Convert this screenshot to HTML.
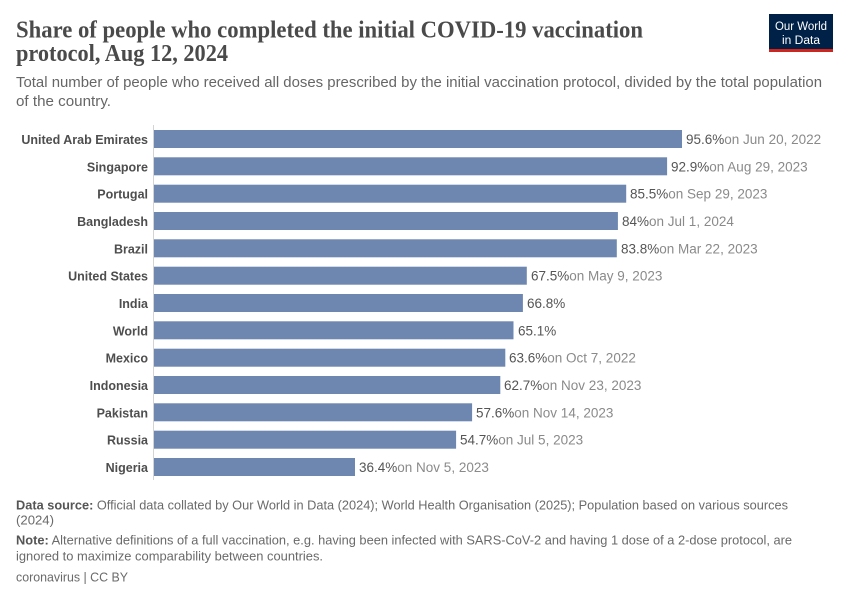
<!DOCTYPE html>
<html>
<head>
<meta charset="utf-8">
<style>
  html,body{margin:0;padding:0;background:#fff;}
  svg{display:block;}
  .t{font-family:"Liberation Serif",serif;font-size:24px;font-weight:bold;fill:#4a4a4a;}
  .s{font-family:"Liberation Sans",sans-serif;font-size:15px;fill:#666;}
  .c{font-family:"Liberation Sans",sans-serif;font-size:12.5px;font-weight:bold;fill:#4e4e4e;}
  .v{font-family:"Liberation Sans",sans-serif;font-size:13.5px;fill:#555;}
  .d{fill:#8a8a8a;}
  .f{font-family:"Liberation Sans",sans-serif;font-size:13px;fill:#6a6a6a;}
  .fb{font-weight:bold;fill:#555;}
  .bar{fill:#6d87b0;}
</style>
</head>
<body>
<svg width="850" height="600" viewBox="0 0 850 600" xmlns="http://www.w3.org/2000/svg">
  <rect width="850" height="600" fill="#fff"/>
  <!-- Title -->
  <text class="t" x="16" y="37.5" textLength="627" lengthAdjust="spacingAndGlyphs">Share of people who completed the initial COVID-19 vaccination</text>
  <text class="t" x="16" y="61" textLength="212" lengthAdjust="spacingAndGlyphs">protocol, Aug 12, 2024</text>
  <!-- Subtitle -->
  <text class="s" x="16" y="87" textLength="806" lengthAdjust="spacingAndGlyphs">Total number of people who received all doses prescribed by the initial vaccination protocol, divided by the total population</text>
  <text class="s" x="16" y="106" textLength="95" lengthAdjust="spacingAndGlyphs">of the country.</text>

  <!-- Logo -->
  <rect x="769" y="14" width="64" height="38" fill="#002147"/>
  <rect x="769" y="49" width="64" height="3" fill="#ce261e"/>
  <text x="801" y="30" text-anchor="middle" font-family="Liberation Sans, sans-serif" font-size="11.5" fill="#fff" textLength="52" lengthAdjust="spacingAndGlyphs">Our World</text>
  <text x="801" y="44" text-anchor="middle" font-family="Liberation Sans, sans-serif" font-size="11.5" fill="#fff" textLength="38" lengthAdjust="spacingAndGlyphs">in Data</text>

  <!-- Axis line -->
  <line x1="153.5" y1="125" x2="153.5" y2="480" stroke="#d4d4d4" stroke-width="1"/>

  <!-- Bars -->
  <g>
    <rect class="bar" x="154" y="130" width="528" height="18"/>
    <rect class="bar" x="154" y="157.3" width="513.1" height="18"/>
    <rect class="bar" x="154" y="184.7" width="472.2" height="18"/>
    <rect class="bar" x="154" y="212" width="463.9" height="18"/>
    <rect class="bar" x="154" y="239.3" width="462.8" height="18"/>
    <rect class="bar" x="154" y="266.7" width="372.8" height="18"/>
    <rect class="bar" x="154" y="294" width="368.9" height="18"/>
    <rect class="bar" x="154" y="321.3" width="359.5" height="18"/>
    <rect class="bar" x="154" y="348.7" width="351.3" height="18"/>
    <rect class="bar" x="154" y="376" width="346.3" height="18"/>
    <rect class="bar" x="154" y="403.3" width="318.1" height="18"/>
    <rect class="bar" x="154" y="430.7" width="302.1" height="18"/>
    <rect class="bar" x="154" y="458" width="201" height="18"/>
  </g>

  <!-- Country labels -->
  <g text-anchor="end">
    <text class="c" x="148" y="144">United Arab Emirates</text>
    <text class="c" x="148" y="171.3">Singapore</text>
    <text class="c" x="148" y="198.7">Portugal</text>
    <text class="c" x="148" y="226">Bangladesh</text>
    <text class="c" x="148" y="253.3">Brazil</text>
    <text class="c" x="148" y="280.7">United States</text>
    <text class="c" x="148" y="308">India</text>
    <text class="c" x="148" y="335.3">World</text>
    <text class="c" x="148" y="362.7">Mexico</text>
    <text class="c" x="148" y="390">Indonesia</text>
    <text class="c" x="148" y="417.3">Pakistan</text>
    <text class="c" x="148" y="444.7">Russia</text>
    <text class="c" x="148" y="472">Nigeria</text>
  </g>

  <!-- Value labels -->
  <g>
    <text class="v" x="686" y="144">95.6%<tspan class="d">on Jun 20, 2022</tspan></text>
    <text class="v" x="671" y="171.3">92.9%<tspan class="d">on Aug 29, 2023</tspan></text>
    <text class="v" x="630" y="198.7">85.5%<tspan class="d">on Sep 29, 2023</tspan></text>
    <text class="v" x="622" y="226">84%<tspan class="d">on Jul 1, 2024</tspan></text>
    <text class="v" x="621" y="253.3">83.8%<tspan class="d">on Mar 22, 2023</tspan></text>
    <text class="v" x="531" y="280.7">67.5%<tspan class="d">on May 9, 2023</tspan></text>
    <text class="v" x="527" y="308">66.8%</text>
    <text class="v" x="518" y="335.3">65.1%</text>
    <text class="v" x="509" y="362.7">63.6%<tspan class="d">on Oct 7, 2022</tspan></text>
    <text class="v" x="504" y="390">62.7%<tspan class="d">on Nov 23, 2023</tspan></text>
    <text class="v" x="476" y="417.3">57.6%<tspan class="d">on Nov 14, 2023</tspan></text>
    <text class="v" x="460" y="444.7">54.7%<tspan class="d">on Jul 5, 2023</tspan></text>
    <text class="v" x="359" y="472">36.4%<tspan class="d">on Nov 5, 2023</tspan></text>
  </g>

  <!-- Footer -->
  <text class="f" x="16" y="509.5" textLength="772" lengthAdjust="spacingAndGlyphs"><tspan class="fb">Data source:</tspan> Official data collated by Our World in Data (2024); World Health Organisation (2025); Population based on various sources</text>
  <text class="f" x="16" y="524.5" textLength="38" lengthAdjust="spacingAndGlyphs">(2024)</text>
  <text class="f" x="16" y="544.5" textLength="776" lengthAdjust="spacingAndGlyphs"><tspan class="fb">Note:</tspan> Alternative definitions of a full vaccination, e.g. having been infected with SARS-CoV-2 and having 1 dose of a 2-dose protocol, are</text>
  <text class="f" x="16" y="560.5" textLength="307" lengthAdjust="spacingAndGlyphs">ignored to maximize comparability between countries.</text>
  <text class="f" x="16" y="581.5" textLength="112" lengthAdjust="spacingAndGlyphs">coronavirus | CC BY</text>
</svg>
</body>
</html>
